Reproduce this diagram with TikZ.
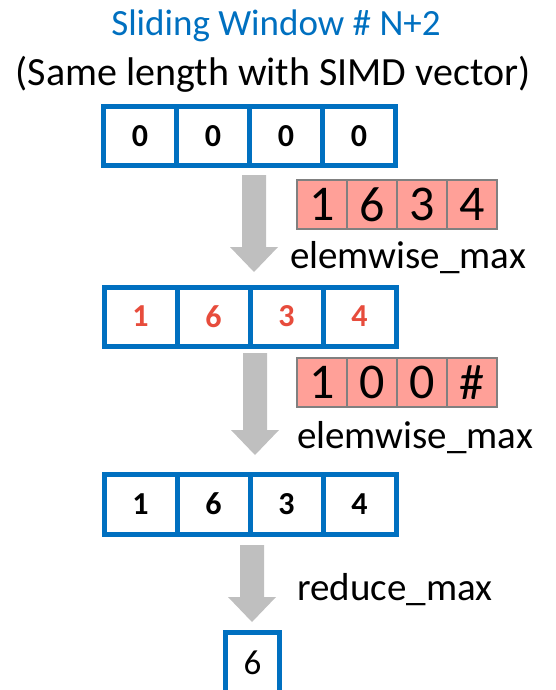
\documentclass[tikz,border=0pt]{standalone}
\usepackage{fontspec}
\setmainfont{Carlito}
\usetikzlibrary{calc}

\definecolor{winblue}{RGB}{0,112,192}
\definecolor{hired}{RGB}{231,76,60}
\definecolor{pinkfill}{RGB}{255,160,152}
\definecolor{pinkedge}{RGB}{128,128,128}
\definecolor{arrowgray}{RGB}{191,191,191}

\newcommand\fsz[1]{\fontsize{#1}{#1}\selectfont}

% gray block arrow from the top of its shaft (#1) to its tip (#2)
\newcommand\blockarrow[2]{%
  \fill[arrowgray] let \p1=(#1), \p2=(#2) in
    (\x1-12pt,\y1) -- (\x1+12pt,\y1) -- (\x1+12pt,\y2+25pt) -- (\x1+24pt,\y2+25pt)
    -- (\x1,\y2) -- (\x1-24pt,\y2+25pt) -- (\x1-12pt,\y2+25pt) -- cycle;}

\begin{document}
\begin{tikzpicture}[x=1pt,y=1pt,
  vcell/.style={draw=winblue, line width=5pt, minimum width=73pt, minimum height=58pt,
    inner sep=0pt, font=\bfseries\fsz{32}},
  pcell/.style={draw=pinkedge, fill=pinkfill, line width=2pt, minimum width=50pt,
    minimum height=49pt, inner sep=0pt, font=\fsz{50}},
  oplabel/.style={anchor=base west, inner sep=0pt, font=\fsz{39}}]
\useasboundingbox (0,0) rectangle (556,-690);
\clip (0,0) rectangle (556,-690);

% titles
\node[anchor=base, inner sep=0pt, text=winblue, font=\fsz{37}] (title) at (276,-36) {Sliding Window \# N+2};
\node[anchor=base, inner sep=0pt, font=\fsz{40}] (subtitle) at (273,-86) {(Same length with SIMD vector)};

% window initialised to zeros
\foreach \v [count=\i] in {0,0,0,0}
  \node[vcell] (r1c\i) at (67+73*\i,-136) {\v};

% incoming values
\foreach \v [count=\i] in {1,6,3,4}
  \node[pcell] (p1c\i) at (272+50*\i,-204.5) {\v};

\coordinate (a1t) at (254,-175);
\coordinate (a1h) at (254,-272);
\blockarrow{a1t}{a1h}
\node[oplabel] (op1) at (290,-268) {elemwise\_max};

% after first max
\foreach \v [count=\i] in {1,6,3,4}
  \node[vcell, minimum height=59pt, text=hired] (r2c\i) at (67.5+73*\i,-316.5) {\v};

\foreach \v [count=\i] in {1,0,0,\#}
  \node[pcell] (p2c\i) at (272+50*\i,-382.5) {\v};

\coordinate (a2t) at (255,-353);
\coordinate (a2h) at (255,-455);
\blockarrow{a2t}{a2h}
\node[oplabel] (op2) at (297,-448) {elemwise\_max};

% after second max
\foreach \v [count=\i] in {1,6,3,4}
  \node[vcell, minimum height=60pt] (r3c\i) at (67.5+73*\i,-504) {\v};

\coordinate (a3t) at (252,-545);
\coordinate (a3h) at (252,-622);
\blockarrow{a3t}{a3h}
\node[oplabel] (op3) at (297,-600) {reduce\_max};

% reduced result
\node[vcell, minimum width=54pt, minimum height=62pt, font=\fsz{35}] (res) at (252.5,-663) {6};
\end{tikzpicture}
\end{document}
